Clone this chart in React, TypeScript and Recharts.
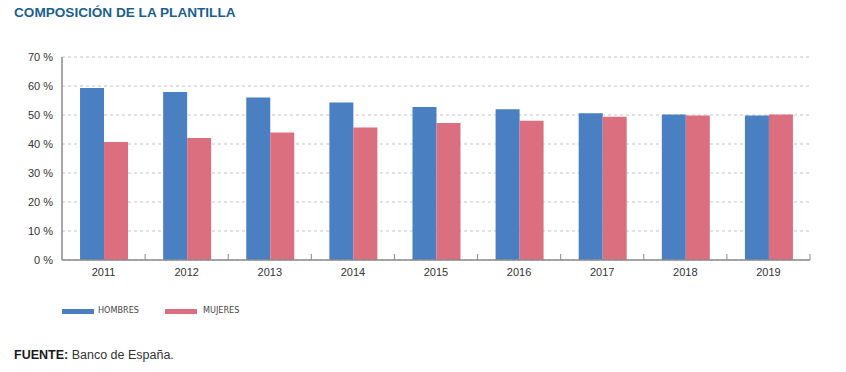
import { BarChart, Bar, XAxis, YAxis, CartesianGrid } from "recharts"

const years = ["2011", "2012", "2013", "2014", "2015", "2016", "2017", "2018", "2019"]
const hombres = [59.3, 57.9, 56.0, 54.3, 52.8, 52.0, 50.6, 50.2, 49.8]
const mujeres = [40.7, 42.1, 44.0, 45.7, 47.2, 48.0, 49.4, 49.8, 50.2]
const yTicks = [0, 10, 20, 30, 40, 50, 60, 70]

const BLUE = "#4a7fc1"
const RED = "#db6f7f"
const FONT = "'Liberation Sans', Arial, sans-serif"
const NARROW = "'Liberation Sans Narrow', 'DejaVu Sans Condensed', sans-serif"

const data = years.map((year, i) => ({ year, hombres: hombres[i], mujeres: mujeres[i] }))

function YearTick(props: any) {
  const { x, y, payload, index } = props
  const off = payload?.offset ?? 0
  const last = index === years.length - 1
  return (
    <g>
      {index > 0 && (
        <line x1={x - off} x2={x - off} y1={y} y2={y - 6} stroke="#8a8a8a" strokeWidth={1} />
      )}
      {last && <line x1={x + off} x2={x + off} y1={y} y2={y - 6} stroke="#8a8a8a" strokeWidth={1} />}
      <text x={x} y={y + 16} textAnchor="middle" fill="#333" fontSize={11} fontFamily={FONT}>
        {payload.value}
      </text>
    </g>
  )
}

export default function App() {
  return (
    <div style={{ position: "absolute", left: 0, top: 0, width: 846, height: 372, background: "#fff", fontFamily: FONT }}>
      <div style={{ position: "absolute", left: 14, top: 5, fontSize: 13.6, fontWeight: 700, color: "#1b5f8e" }}>
        COMPOSICIÓN DE LA PLANTILLA
      </div>
      <div style={{ position: "absolute", left: 0, top: 0 }}>
        <BarChart
          width={846}
          height={290}
          data={data}
          margin={{ top: 57, right: 36, left: 0, bottom: 0 }}
          barCategoryGap="21.7%"
          barGap={0}
        >
          <CartesianGrid vertical={false} stroke="#c4c4c4" strokeDasharray="3 3" />
          <XAxis
            dataKey="year"
            height={30}
            tickLine={false}
            tickSize={0}
            tickMargin={0}
            axisLine={{ stroke: "#8a8a8a", strokeWidth: 1.5 }}
            tick={<YearTick />}
            interval={0}
          />
          <YAxis
            width={62}
            domain={[0, 70]}
            ticks={yTicks}
            tickLine={false}
            tickSize={0}
            tickMargin={9}
            axisLine={{ stroke: "#8a8a8a", strokeWidth: 1.5 }}
            tick={{ fill: "#333", fontSize: 11, fontFamily: FONT }}
            tickFormatter={(v: number) => `${v} %`}
          />
          <Bar dataKey="hombres" fill={BLUE} isAnimationActive={false} />
          <Bar dataKey="mujeres" fill={RED} isAnimationActive={false} />
        </BarChart>
      </div>
      <div style={{ position: "absolute", left: 62, top: 309, width: 32, height: 5, background: BLUE }} />
      <div style={{ position: "absolute", left: 98, top: 305, fontSize: 9, color: "#444", fontFamily: NARROW }}>
        HOMBRES
      </div>
      <div style={{ position: "absolute", left: 165, top: 309, width: 32, height: 5, background: RED }} />
      <div style={{ position: "absolute", left: 203, top: 305, fontSize: 9, color: "#444", fontFamily: NARROW }}>
        MUJERES
      </div>
      <div style={{ position: "absolute", left: 14, top: 348, fontSize: 12.5, color: "#333" }}>
        <b style={{ color: "#1a1a1a" }}>FUENTE:</b> Banco de España.
      </div>
    </div>
  )
}
